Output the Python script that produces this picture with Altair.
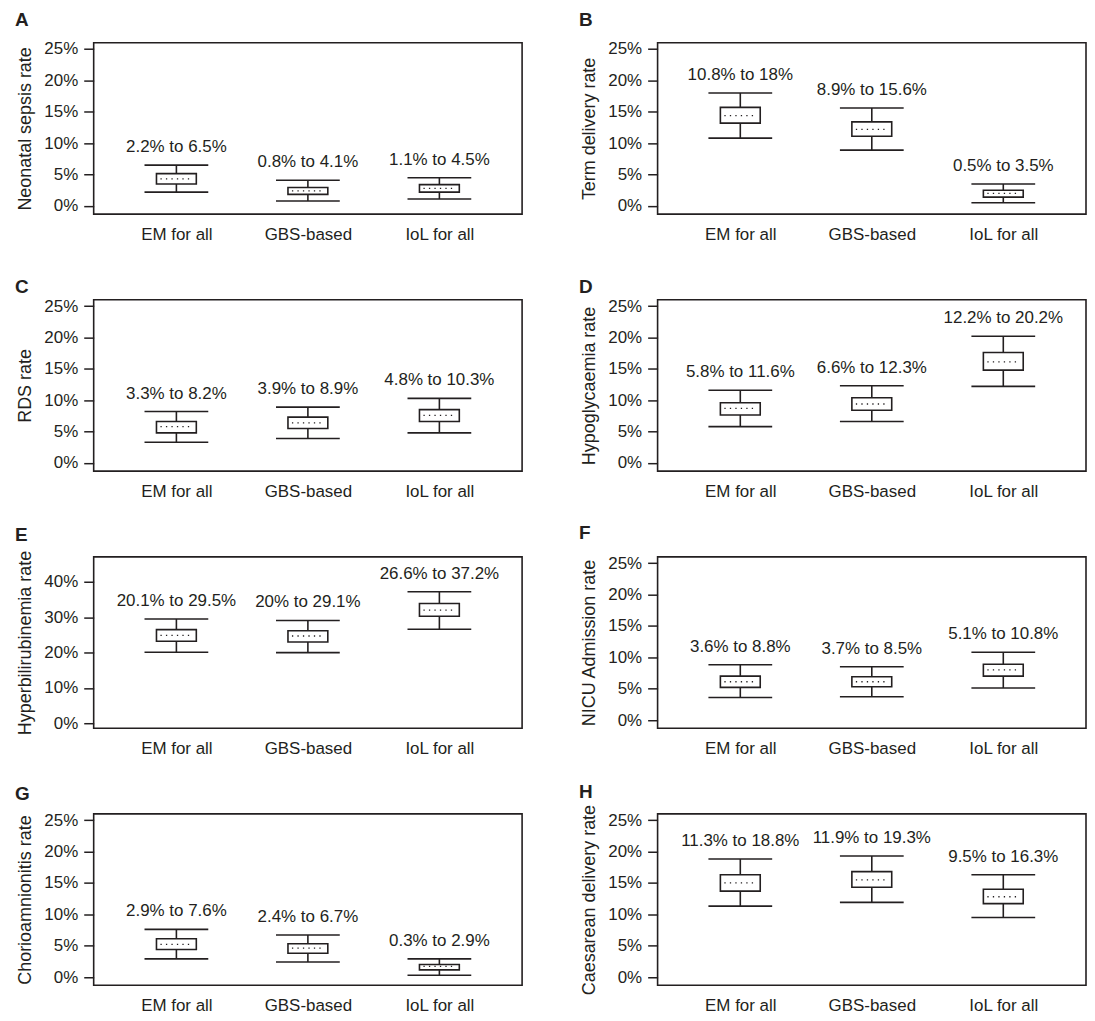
import altair as alt
import pandas as pd

categories = ["EM for all", "GBS-based", "IoL for all"]
letters = ["A", "B", "C", "D", "E", "F", "G", "H"]
y_titles = [
    "Neonatal sepsis rate", "Term delivery rate", "RDS rate", "Hypoglycaemia rate",
    "Hyperbilirubinemia rate", "NICU Admission rate", "Chorioamnionitis rate",
    "Caesarean delivery rate",
]

# whisker low / high (the labelled range), box Q1 / median / Q3 (in %)
low = {
    "A": [2.2, 0.8, 1.1], "B": [10.8, 8.9, 0.5], "C": [3.3, 3.9, 4.8], "D": [5.8, 6.6, 12.2],
    "E": [20.1, 20, 26.6], "F": [3.6, 3.7, 5.1], "G": [2.9, 2.4, 0.3], "H": [11.3, 11.9, 9.5],
}
high = {
    "A": [6.5, 4.1, 4.5], "B": [18, 15.6, 3.5], "C": [8.2, 8.9, 10.3], "D": [11.6, 12.3, 20.2],
    "E": [29.5, 29.1, 37.2], "F": [8.8, 8.5, 10.8], "G": [7.6, 6.7, 2.9], "H": [18.8, 19.3, 16.3],
}
q1 = {
    "A": [3.5, 1.85, 2.2], "B": [13.2, 11.1, 1.4], "C": [4.8, 5.5, 6.6], "D": [7.65, 8.4, 14.8],
    "E": [23.2, 23.0, 30.3], "F": [5.2, 5.3, 7.0], "G": [4.4, 3.8, 1.15], "H": [13.7, 14.3, 11.7],
}
median = {
    "A": [4.3, 2.4, 2.8], "B": [14.4, 12.2, 2.0], "C": [5.8, 6.4, 7.6], "D": [8.7, 9.4, 16.1],
    "E": [24.9, 24.7, 32.0], "F": [6.1, 6.1, 8.0], "G": [5.2, 4.6, 1.7], "H": [15.0, 15.5, 12.8],
}
q3 = {
    "A": [5.15, 2.95, 3.4], "B": [15.7, 13.4, 2.5], "C": [6.6, 7.3, 8.5], "D": [9.6, 10.4, 17.6],
    "E": [26.5, 26.2, 33.9], "F": [7.0, 6.9, 8.9], "G": [6.1, 5.3, 2.0], "H": [16.3, 16.8, 14.0],
}

FONT = "Liberation Sans"
INK = "#231f20"
title_offsets = {"A": -5, "B": -5, "C": -15, "D": -15, "E": -10, "F": -4, "G": -8, "H": -13}


def panel(letter, ytitle):
    df = pd.DataFrame({
        "cat": categories,
        "lo": low[letter], "hi": high[letter],
        "q1": q1[letter], "med": median[letter], "q3": q3[letter],
    })
    df["label"] = [f"{a:g}% to {b:g}%" for a, b in zip(df["lo"], df["hi"])]

    if letter == "E":
        dom = [-1.4, 47.1]
        ticks = [0, 10, 20, 30, 40]
    else:
        dom = [-1.3, 26.0]
        ticks = [0, 5, 10, 15, 20, 25]

    x = alt.X("cat:N", sort=categories, title=None,
              scale=alt.Scale(type="point", padding=0.629),
              axis=alt.Axis(labelAngle=0, ticks=False, domain=False, labelPadding=12,
                            labelFontSize=17, labelFont=FONT, labelColor=INK, grid=False))
    yscale = alt.Scale(domain=dom, nice=False, zero=False)
    yaxis = alt.Axis(values=ticks, labelExpr="datum.value + '%'", domain=False, grid=False,
                     tickSize=10, tickWidth=1.5, tickColor=INK, labelPadding=6,
                     labelOverlap=False,
                     labelFontSize=17, labelFont=FONT, labelColor=INK,
                     titleFontSize=18, titleFont=FONT, titleFontWeight="normal",
                     titleColor=INK, titlePadding=9)

    def yq(field):
        return alt.Y(field, scale=yscale, axis=yaxis, title=ytitle)

    base = alt.Chart(df)
    whisker = base.mark_rule(color=INK, strokeWidth=1.6).encode(x=x, y=yq("lo:Q"), y2="hi:Q")
    cap_lo = base.mark_rule(color=INK, strokeWidth=1.6, xOffset=-32, x2Offset=32).encode(
        x=x, x2="cat:N", y=yq("lo:Q"))
    cap_hi = base.mark_rule(color=INK, strokeWidth=1.6, xOffset=-32, x2Offset=32).encode(
        x=x, x2="cat:N", y=yq("hi:Q"))
    box = base.mark_bar(size=40, fill="white", stroke=INK, strokeWidth=1.6).encode(
        x=x, y=yq("q1:Q"), y2="q3:Q")
    med = base.mark_rule(color=INK, strokeWidth=1.3, strokeDash=[1.3, 4.2],
                         xOffset=-16, x2Offset=16).encode(
        x=x, x2="cat:N", y=yq("med:Q"))
    label = base.mark_text(baseline="bottom", dy=-9, fontSize=17, font=FONT, color=INK).encode(
        x=x, y=yq("hi:Q"), text="label:N")

    return alt.layer(whisker, cap_lo, cap_hi, box, med, label).properties(
        width=430, height=172,
        title=alt.TitleParams(letter, anchor="start", frame="group", dx=-79,
                              baseline="alphabetic", fontSize=19, fontWeight="bold",
                              font=FONT, color=INK, offset=title_offsets[letter]),
    )


panels = [panel(letters[i], y_titles[i]) for i in range(8)]

chart = alt.concat(*panels, columns=2, spacing={"row": 86, "column": 136},
                   bounds="flush").properties(
    padding={"left": 6, "top": 0, "right": 0, "bottom": 0}
).configure(background="white").configure_view(stroke=INK, strokeWidth=1.6)

chart.save("out.html", embed_options={"renderer": "svg", "actions": False})
